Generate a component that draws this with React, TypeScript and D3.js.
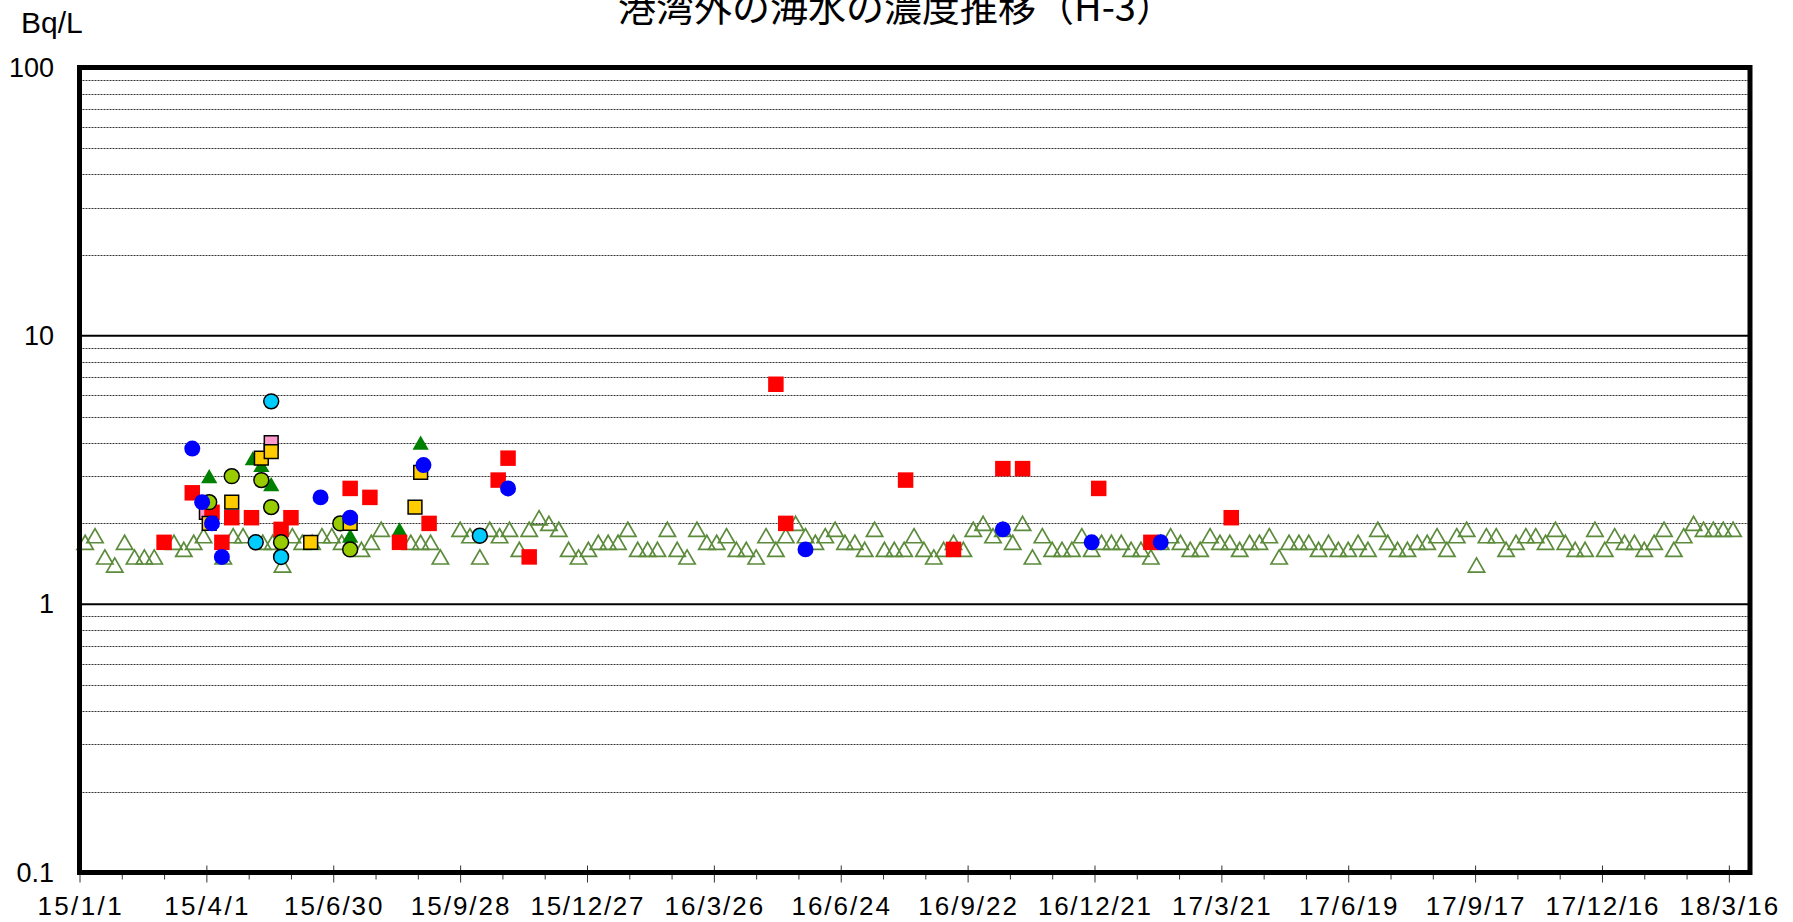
import React, { useRef, useEffect } from "react";
import * as d3 from "d3";

const title = "港湾外の海水の濃度推移（H-3）";
const unitLabel = "Bq/L";
const xTickDates = [
  "2015-01-01", "2015-04-01", "2015-06-30", "2015-09-28", "2015-12-27", "2016-03-26", "2016-06-24",
  "2016-09-22", "2016-12-21", "2017-03-21", "2017-06-19", "2017-09-17", "2017-12-16", "2018-03-16",
];
const yTickValues = [0.1, 1, 10, 100];

// 測定値 [日付, Bq/L]
const openTriangle: [string, number][] = [
  ["2015-01-05", 1.7], ["2015-01-12", 1.8], ["2015-01-19", 1.5], ["2015-01-26", 1.4], ["2015-02-02", 1.7],
  ["2015-02-09", 1.5], ["2015-02-16", 1.5], ["2015-02-23", 1.5], ["2015-03-09", 1.7], ["2015-03-16", 1.6],
  ["2015-03-23", 1.7], ["2015-03-30", 1.8], ["2015-04-13", 1.5], ["2015-04-20", 1.8], ["2015-04-27", 1.8],
  ["2015-05-11", 1.7], ["2015-05-18", 1.7], ["2015-05-25", 1.4], ["2015-06-01", 1.8], ["2015-06-08", 1.7],
  ["2015-06-15", 1.7], ["2015-06-22", 1.8], ["2015-06-29", 1.8], ["2015-07-06", 1.7], ["2015-07-20", 1.6],
  ["2015-07-27", 1.7], ["2015-08-03", 1.9], ["2015-08-24", 1.7], ["2015-08-31", 1.7], ["2015-09-07", 1.7],
  ["2015-09-14", 1.5], ["2015-09-28", 1.9], ["2015-10-05", 1.8], ["2015-10-12", 1.5], ["2015-10-19", 1.9],
  ["2015-10-26", 1.8], ["2015-11-02", 1.9], ["2015-11-09", 1.6], ["2015-11-16", 1.9], ["2015-11-23", 2.1],
  ["2015-11-30", 2.0], ["2015-12-07", 1.9], ["2015-12-14", 1.6], ["2015-12-21", 1.5], ["2015-12-28", 1.6],
  ["2016-01-04", 1.7], ["2016-01-11", 1.7], ["2016-01-18", 1.7], ["2016-01-25", 1.9], ["2016-02-01", 1.6],
  ["2016-02-08", 1.6], ["2016-02-15", 1.6], ["2016-02-22", 1.9], ["2016-02-29", 1.6], ["2016-03-07", 1.5],
  ["2016-03-14", 1.9], ["2016-03-21", 1.7], ["2016-03-28", 1.7], ["2016-04-04", 1.8], ["2016-04-11", 1.6],
  ["2016-04-18", 1.6], ["2016-04-25", 1.5], ["2016-05-02", 1.8], ["2016-05-09", 1.6], ["2016-05-16", 1.8],
  ["2016-05-23", 2.0], ["2016-05-30", 1.8], ["2016-06-06", 1.7], ["2016-06-13", 1.8], ["2016-06-20", 1.9],
  ["2016-06-27", 1.7], ["2016-07-04", 1.7], ["2016-07-11", 1.6], ["2016-07-18", 1.9], ["2016-07-25", 1.6],
  ["2016-08-01", 1.6], ["2016-08-08", 1.6], ["2016-08-15", 1.8], ["2016-08-22", 1.6], ["2016-08-29", 1.5],
  ["2016-09-05", 1.6], ["2016-09-12", 1.7], ["2016-09-19", 1.6], ["2016-09-26", 1.9], ["2016-10-03", 2.0],
  ["2016-10-10", 1.8], ["2016-10-17", 1.9], ["2016-10-24", 1.7], ["2016-10-31", 2.0], ["2016-11-07", 1.5],
  ["2016-11-14", 1.8], ["2016-11-21", 1.6], ["2016-11-28", 1.6], ["2016-12-05", 1.6], ["2016-12-12", 1.8],
  ["2016-12-19", 1.6], ["2016-12-26", 1.7], ["2017-01-02", 1.7], ["2017-01-09", 1.7], ["2017-01-16", 1.6],
  ["2017-01-23", 1.6], ["2017-01-30", 1.5], ["2017-02-06", 1.7], ["2017-02-13", 1.8], ["2017-02-20", 1.7],
  ["2017-02-27", 1.6], ["2017-03-06", 1.6], ["2017-03-13", 1.8], ["2017-03-20", 1.7], ["2017-03-27", 1.7],
  ["2017-04-03", 1.6], ["2017-04-10", 1.7], ["2017-04-17", 1.7], ["2017-04-24", 1.8], ["2017-05-01", 1.5],
  ["2017-05-08", 1.7], ["2017-05-15", 1.7], ["2017-05-22", 1.7], ["2017-05-29", 1.6], ["2017-06-05", 1.7],
  ["2017-06-12", 1.6], ["2017-06-19", 1.6], ["2017-06-26", 1.7], ["2017-07-03", 1.6], ["2017-07-10", 1.9],
  ["2017-07-17", 1.7], ["2017-07-24", 1.6], ["2017-07-31", 1.6], ["2017-08-07", 1.7], ["2017-08-14", 1.7],
  ["2017-08-21", 1.8], ["2017-08-28", 1.6], ["2017-09-04", 1.8], ["2017-09-11", 1.9], ["2017-09-18", 1.4],
  ["2017-09-25", 1.8], ["2017-10-02", 1.8], ["2017-10-09", 1.6], ["2017-10-16", 1.7], ["2017-10-23", 1.8],
  ["2017-10-30", 1.8], ["2017-11-06", 1.7], ["2017-11-13", 1.9], ["2017-11-20", 1.7], ["2017-11-27", 1.6],
  ["2017-12-04", 1.6], ["2017-12-11", 1.9], ["2017-12-18", 1.6], ["2017-12-25", 1.8], ["2018-01-01", 1.7],
  ["2018-01-08", 1.7], ["2018-01-15", 1.6], ["2018-01-22", 1.7], ["2018-01-29", 1.9], ["2018-02-05", 1.6],
  ["2018-02-12", 1.8], ["2018-02-19", 2.0], ["2018-02-26", 1.9], ["2018-03-05", 1.9], ["2018-03-12", 1.9],
  ["2018-03-19", 1.9],
];
const greenTriangle: [string, number][] = [
  ["2015-04-03", 3.0], ["2015-05-04", 3.5], ["2015-05-10", 3.3], ["2015-05-17", 2.8], ["2015-07-12", 1.8],
  ["2015-08-16", 1.9], ["2015-08-31", 4.0],
];
const pinkSquare: [string, number][] = [["2015-04-01", 2.2], ["2015-05-17", 4.0]];
const redSquare: [string, number][] = [
  ["2015-03-02", 1.7], ["2015-03-22", 2.6], ["2015-04-05", 2.2], ["2015-04-12", 1.7], ["2015-04-19", 2.1],
  ["2015-05-03", 2.1], ["2015-05-24", 1.9], ["2015-05-31", 2.1], ["2015-07-12", 2.7], ["2015-07-26", 2.5],
  ["2015-08-16", 1.7], ["2015-09-06", 2.0], ["2015-10-25", 2.9], ["2015-11-01", 3.5], ["2015-11-16", 1.5],
  ["2016-05-09", 6.6], ["2016-05-16", 2.0], ["2016-08-09", 2.9], ["2016-09-12", 1.6], ["2016-10-17", 3.2],
  ["2016-10-31", 3.2], ["2016-12-24", 2.7], ["2017-01-30", 1.7], ["2017-03-28", 2.1],
];
const yellowGreenCircle: [string, number][] = [
  ["2015-04-03", 2.4], ["2015-04-19", 3.0], ["2015-05-10", 2.9], ["2015-05-17", 2.3], ["2015-05-24", 1.7],
  ["2015-07-05", 2.0], ["2015-07-12", 1.6],
];
const goldSquare: [string, number][] = [
  ["2015-04-03", 2.0], ["2015-04-19", 2.4], ["2015-05-10", 3.5], ["2015-05-17", 3.7], ["2015-06-14", 1.7],
  ["2015-07-12", 2.0], ["2015-08-27", 2.3], ["2015-08-31", 3.1],
];
const cyanCircle: [string, number][] = [
  ["2015-05-06", 1.7], ["2015-05-17", 5.7], ["2015-05-24", 1.5], ["2015-10-12", 1.8],
];
const blueCircle: [string, number][] = [
  ["2015-03-22", 3.8], ["2015-03-29", 2.4], ["2015-04-05", 2.0], ["2015-04-12", 1.5], ["2015-06-21", 2.5],
  ["2015-07-12", 2.1], ["2015-09-02", 3.3], ["2015-11-01", 2.7], ["2016-05-30", 1.6], ["2016-10-17", 1.9],
  ["2016-12-19", 1.7], ["2017-02-06", 1.7],
];

// Excel風の三角形（外接矩形の中心が値の位置）
const excelTriangle = {
  draw(context: any, size: number) {
    const w = Math.sqrt(size * 2.3);
    const h = w * 0.87;
    context.moveTo(0, -h / 2);
    context.lineTo(w / 2, h / 2);
    context.lineTo(-w / 2, h / 2);
    context.closePath();
  },
};

const App = () => {
  const svgRef = useRef<SVGSVGElement>(null);

  useEffect(() => {
    const width = 1793;
    const height = 922;
    const marginLeft = 79.5;
    const marginRight = 43;
    const marginTop = 67.5;
    const marginBottom = 49.5;

    const parse = d3.utcParse("%Y-%m-%d");
    const fmt = d3.utcFormat("%y/%-m/%-d");
    const start = parse("2015-01-01")!;
    const end = parse("2018-03-31")!;

    const x = d3.scaleUtc().domain([start, end]).range([marginLeft, width - marginRight]);
    const y = d3.scaleLog().domain([0.1, 100]).range([height - marginBottom, marginTop]);

    const svg = d3.select(svgRef.current)
      .attr("width", width)
      .attr("height", height)
      .attr("viewBox", [0, 0, width, height].join(" "));
    svg.selectAll("*").remove();

    svg.append("rect").attr("width", width).attr("height", height).attr("fill", "#fff");

    // title (top is cut off in the original)
    svg.append("text")
      .attr("x", 896)
      .attr("y", 21)
      .attr("text-anchor", "middle")
      .attr("font-family", "'Noto Sans CJK JP', sans-serif")
      .attr("font-size", 38)
      .attr("fill", "#000")
      .text(title);

    svg.append("text")
      .attr("x", 21)
      .attr("y", 33)
      .attr("font-family", "'Liberation Sans', Arial, sans-serif")
      .attr("font-size", 30)
      .text(unitLabel);

    // gridlines
    const minor = y.ticks().filter(v => Math.abs(Math.log10(v) - Math.round(Math.log10(v))) > 1e-6);
    svg.append("g")
      .selectAll("line")
      .data(minor)
      .join("line")
      .attr("x1", marginLeft)
      .attr("x2", width - marginRight)
      .attr("y1", d => Math.round(y(d)) + 0.5)
      .attr("y2", d => Math.round(y(d)) + 0.5)
      .attr("stroke", "#333")
      .attr("stroke-width", 1)
      .attr("stroke-dasharray", "2,1");

    svg.append("g")
      .selectAll("line")
      .data(yTickValues.slice(1, -1))
      .join("line")
      .attr("x1", marginLeft)
      .attr("x2", width - marginRight)
      .attr("y1", d => y(d))
      .attr("y2", d => y(d))
      .attr("stroke", "#000")
      .attr("stroke-width", 2);

    // y labels
    svg.append("g")
      .selectAll("text")
      .data(yTickValues)
      .join("text")
      .attr("x", 54)
      .attr("y", d => y(d) + 9)
      .attr("text-anchor", "end")
      .attr("font-family", "'Liberation Sans', Arial, sans-serif")
      .attr("font-size", 27)
      .text(d => String(d));

    // x axis ticks
    const majorTicks = xTickDates.map(d => parse(d)!);
    const minorTicks = d3.utcDay.range(start, end, 30).filter(d => !majorTicks.some(m => +m === +d));

    svg.append("g")
      .attr("transform", `translate(0,${height - marginBottom})`)
      .call(d3.axisBottom(x).tickValues(minorTicks).tickSize(7).tickFormat(() => ""))
      .call(g => g.select(".domain").remove())
      .call(g => g.selectAll("line").attr("stroke", "#333"));

    svg.append("g")
      .attr("transform", `translate(0,${height - marginBottom})`)
      .call(d3.axisBottom(x).tickValues(majorTicks).tickSizeInner(10).tickSizeOuter(0).tickPadding(0).tickFormat(() => ""))
      .call(g => g.select(".domain").remove())
      .call(g => g.selectAll("line").attr("stroke", "#333").attr("y1", -7));

    svg.append("g")
      .selectAll("text")
      .data(majorTicks)
      .join("text")
      .attr("x", d => x(d))
      .attr("y", 915)
      .attr("text-anchor", "middle")
      .attr("font-family", "'Liberation Sans', Arial, sans-serif")
      .attr("font-size", 26)
      .attr("textLength", d => {
        const s = fmt(d);
        const slashes = s.split("/").length - 1;
        return (s.length - slashes) * 14.3 + slashes * 13.5;
      })
      .attr("lengthAdjust", "spacing")
      .text(d => fmt(d));

    // markers
    const plot = svg.append("g");
    const drawSeries = (
      data: [string, number][],
      type: any,
      size: number,
      fill: string,
      stroke: string,
      strokeWidth: number,
    ) => {
      plot.append("g")
        .selectAll("path")
        .data(data)
        .join("path")
        .attr("transform", d => `translate(${x(parse(d[0])!)},${y(d[1])})`)
        .attr("d", d3.symbol().type(type).size(size)())
        .attr("fill", fill)
        .attr("stroke", stroke)
        .attr("stroke-width", strokeWidth);
    };

    drawSeries(openTriangle, excelTriangle, 115, "none", "#5B8B3B", 1.7);
    drawSeries(greenTriangle, excelTriangle, 115, "#008000", "none", 0);
    drawSeries(pinkSquare, d3.symbolSquare, 190, "#FF99CC", "#000", 1.5);
    drawSeries(redSquare, d3.symbolSquare, 240, "#FF0000", "none", 0);
    drawSeries(yellowGreenCircle, d3.symbolCircle, 175, "#99CC00", "#000", 1.5);
    drawSeries(goldSquare, d3.symbolSquare, 190, "#FFCC00", "#000", 1.5);
    drawSeries(cyanCircle, d3.symbolCircle, 175, "#00CCFF", "#000", 1.5);
    drawSeries(blueCircle, d3.symbolCircle, 200, "#0000FF", "none", 0);

    // plot frame
    svg.append("rect")
      .attr("x", marginLeft)
      .attr("y", marginTop)
      .attr("width", width - marginRight - marginLeft)
      .attr("height", height - marginBottom - marginTop)
      .attr("fill", "none")
      .attr("stroke", "#000")
      .attr("stroke-width", 5);
  }, []);

  return <svg ref={svgRef} style={{ position: "absolute", left: 0, top: 0 }} />;
};

export default App;
